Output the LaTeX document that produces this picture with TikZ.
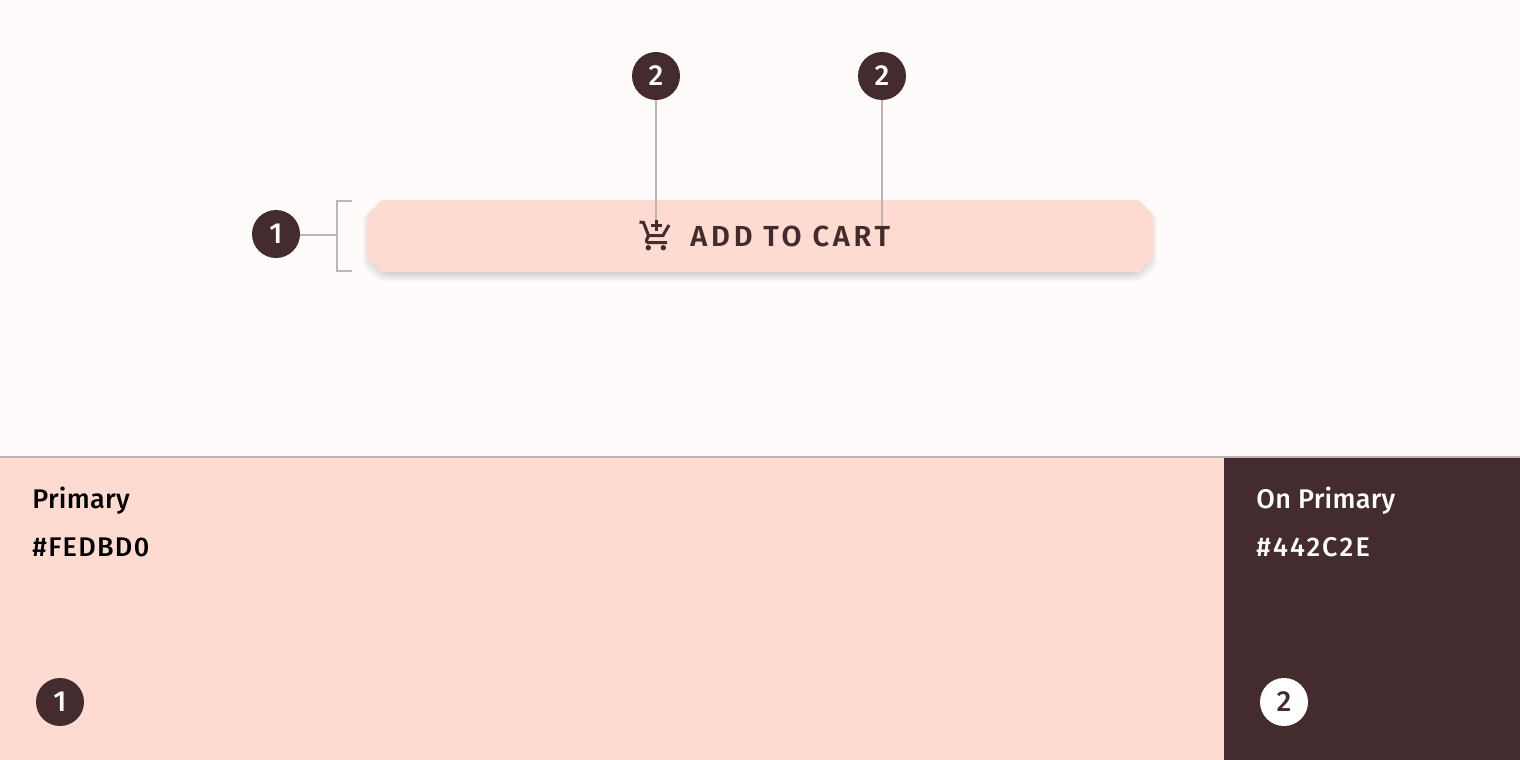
\documentclass[tikz,border=0pt]{standalone}
\usepackage{fontspec}
\setmainfont{Liberation Sans}
\newfontfamily\labelfont[LetterSpace=1]{Fira Sans Medium}
\newfontfamily\hexfont[LetterSpace=4.8]{Fira Sans Medium}
\newfontfamily\hexfontb[LetterSpace=8]{Fira Sans Medium}
\newfontfamily\numfont{Fira Sans Medium}
\newfontfamily\btnfont[LetterSpace=13]{Fira Sans SemiBold}
\definecolor{bgc}{HTML}{FFFBFA}
\definecolor{prim}{HTML}{FEDBD0}
\definecolor{onprim}{HTML}{442C2E}
\definecolor{leader}{HTML}{BFB3B3}
\definecolor{shadowc}{HTML}{442C2E}
\tikzset{
  x=0.5pt,y=-0.5pt,
  badge/.style={circle,fill=onprim,text=white,minimum size=24pt,inner sep=0pt,font=\numfont\fontsize{14.5}{14.5}\selectfont},
  badgelight/.style={badge,fill=white,text=onprim},
  leadline/.style={draw=leader,line width=1pt},
  swatchtext/.style={anchor=base west,inner sep=0pt,font=\labelfont\fontsize{13.5}{14}\selectfont},
  hextext/.style={swatchtext,font=\hexfont\fontsize{13.5}{14}\selectfont},
  hextextb/.style={swatchtext,font=\hexfontb\fontsize{13.5}{14}\selectfont},
  iconline/.style={draw=onprim,line width=1.5pt,line join=miter},
}
\begin{document}
\begin{tikzpicture}
\useasboundingbox (0,0) rectangle (1520,760);
\fill[bgc] (0,0) rectangle (1520,760);
% button shadow
\foreach \g in {4,3,2,1,0,-1,-2,-3,-4}{
  \fill[shadowc,opacity=0.022,rounded corners=2pt]
    (382-\g,205-\g) -- (1138+\g,205-\g) -- (1153+\g,220-\g) -- (1153+\g,262+\g) -- (1138+\g,277+\g)
    -- (382-\g,277+\g) -- (367-\g,262+\g) -- (367-\g,220-\g) -- cycle;
}
\fill[prim] (382,200) -- (1138,200) -- (1153,215) -- (1153,257) -- (1138,272) -- (382,272) -- (367,257) -- (367,215) -- cycle;
% callouts
\node[badge] (c1) at (276,234) {1};
\node[badge] (c2a) at (656,76) {2};
\node[badge] (c2b) at (882,76) {2};
\coordinate (e2a) at (656,222);
\coordinate (e2b) at (882,228);
\coordinate (br) at (337,235);
\draw[leadline] (c2a) -- (e2a);
\draw[leadline] (c2b) -- (e2b);
\draw[leadline] (c1.east |- br) -- (br);
\draw[leadline] (352,201) -- (337,201) -- (337,271) -- (352,271);
% cart icon
\draw[iconline] (639.5,222) -- (643.5,222.5) -- (648.5,235.5) -- (663,235.5) -- (669,225);
\draw[iconline] (648.5,235.5) -- (646.6,240) .. controls (646.2,241.5) and (647,242.5) .. (648,242.5) -- (667,242.5);
\fill[onprim] (648.3,247.7) circle[radius=2.7] (663.3,247.7) circle[radius=2.7];
\draw[iconline] (650.8,225) -- (661.5,225) (656,219.5) -- (656,230.7);
\node[anchor=base west,inner sep=0pt,text=onprim,font=\btnfont\fontsize{14.5}{14.5}\selectfont] (btnlabel) at (690,246) {ADD TO CART};
% swatches
\fill[prim] (0,458) rectangle (1224,760);
\fill[onprim] (1224,458) rectangle (1520,760);
\draw[draw=leader,line width=1pt] (0,457) -- (1520,457);
\node[swatchtext,text=black] (p1) at (32,508) {Primary};
\node[hextext,text=black] (p2) at (32,556) {\#FEDBD0};
\node[swatchtext,text=white] (o1) at (1256,508) {On Primary};
\node[hextextb,text=white] (o2) at (1256,556) {\#442C2E};
\node[badge] (k1) at (60,702) {1};
\node[badgelight] (k2) at (1284,702) {2};
\end{tikzpicture}
\end{document}
